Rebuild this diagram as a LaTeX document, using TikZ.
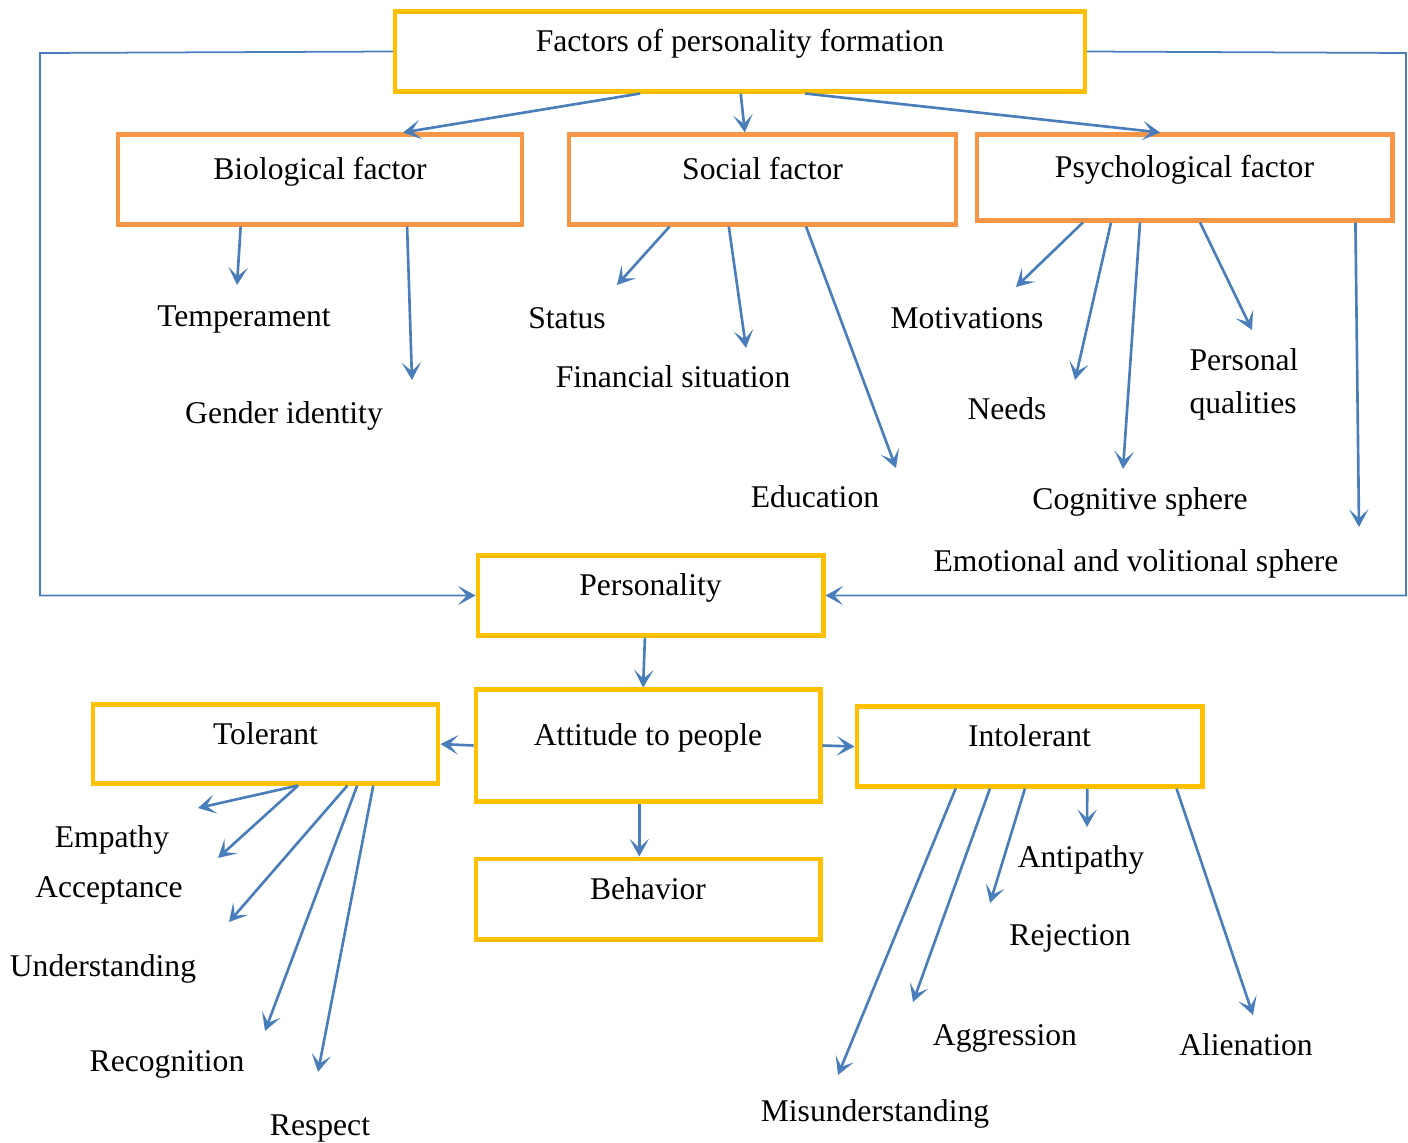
\documentclass[tikz,border=0pt]{standalone}
\usepackage{fontspec}
\setmainfont{Liberation Serif}
\usetikzlibrary{arrows.meta,calc}
\definecolor{amber}{HTML}{FFC000}
\definecolor{tangerine}{HTML}{F79646}
\definecolor{steel}{HTML}{4A7EBB}
\tikzset{
  keybox/.style={
    rectangle, draw=amber, line width=2.3pt, fill=white,
    minimum width=6.92cm, minimum height=1.6cm,
    text height=12pt, text depth=12pt, inner sep=0pt
  },
  factorbox/.style={
    keybox, draw=tangerine,
    minimum width=#1, minimum height=1.8cm
  },
  factorbox/.default=8cm,
  flowarrow/.style={
    -{Stealth[length=10pt,width=11pt,inset=5pt]}, line width=1.5pt, color=steel
  },
  feedline/.style={flowarrow, line width=1pt},
  itemlabel/.style={text height=12pt, text depth=0pt, inner sep=0pt},
}

\begin{document}
\begin{tikzpicture}[x=0.02cm, y=-0.02cm, font=\fontsize{18}{24.5}\selectfont]
  \useasboundingbox (0,0) rectangle (1408,1142);

  % boxes
  \node[keybox, minimum width=13.8cm] (top) at (740,51.5) {Factors of personality formation};
  \node[factorbox=8.1cm] (bio) at (320,179.5) {Biological factor};
  \node[factorbox=7.76cm] (soc) at (762.5,179.5) {Social factor};
  \node[factorbox=8.32cm, minimum height=1.72cm] (psy) at (1184.5,177.5) {Psychological factor};
  \node[keybox] (pers) at (650.5,595.5) {Personality};
  \node[keybox, minimum width=6.9cm, minimum height=2.24cm] (att) at (648,745.5) {Attitude to people};
  \node[keybox, minimum height=1.58cm] (tol) at (265.5,744) {Tolerant};
  \node[keybox] (intol) at (1029.5,746.5) {Intolerant};
  \node[keybox, minimum width=6.9cm, minimum height=1.62cm] (beh) at (648,899) {Behavior};

  % labels
  \node[itemlabel] (temp) at (244,316) {Temperament};
  \node[itemlabel] (gend) at (284,413) {Gender identity};
  \node[itemlabel] (stat) at (567,318) {Status};
  \node[itemlabel] (fin) at (673,377) {Financial situation};
  \node[itemlabel] (edu) at (815,497) {Education};
  \node[itemlabel] (mot) at (967,318) {Motivations};
  \node[itemlabel] (need) at (1007,409) {Needs};
  \node[align=left, inner sep=0pt] (pq) at (1244,384) {Personal\\qualities};
  \node[itemlabel] (cog) at (1140,499) {Cognitive sphere};
  \node[itemlabel] (emo) at (1136,561) {Emotional and volitional sphere};
  \node[itemlabel] (emp) at (112,837) {Empathy};
  \node[itemlabel] (acc) at (109,887) {Acceptance};
  \node[itemlabel] (und) at (103,966) {Understanding};
  \node[itemlabel] (rec) at (167,1061) {Recognition};
  \node[itemlabel] (resp) at (320,1125) {Respect};
  \node[itemlabel] (anti) at (1081,857) {Antipathy};
  \node[itemlabel] (rej) at (1070,935) {Rejection};
  \node[itemlabel] (agg) at (1005,1035) {Aggression};
  \node[itemlabel] (ali) at (1246,1045) {Alienation};
  \node[itemlabel] (mis) at (875,1111) {Misunderstanding};

  % free arrow ends
  \coordinate (temp-tip) at (237,285);
  \coordinate (gend-tip) at (412,380);
  \coordinate (stat-tip) at (617,285);
  \coordinate (fin-tip) at (746,348);
  \coordinate (edu-tip) at (896,468);
  \coordinate (mot-tip) at (1016,287);
  \coordinate (need-tip) at (1075,380);
  \coordinate (cog-tip) at (1123,469);
  \coordinate (pq-tip) at (1252,330);
  \coordinate (emo-tip) at (1359,527);
  \coordinate (emp-tip) at (198,808);
  \coordinate (acc-tip) at (218,858);
  \coordinate (und-tip) at (229,922);
  \coordinate (rec-tip) at (265,1031);
  \coordinate (resp-tip) at (318,1072);
  \coordinate (mis-tip) at (838,1075);
  \coordinate (agg-tip) at (913,1002);
  \coordinate (rej-tip) at (990,903);
  \coordinate (anti-tip) at (1087,827);
  \coordinate (ali-tip) at (1253,1015);
  \coordinate (fbl) at (40,53);
  \coordinate (fbr) at (1406,53);

  % top level
  \draw[flowarrow] ($(top.south west)!.356!(top.south east)$) -- ($(bio.north west)!.703!(bio.north east)$);
  \draw[flowarrow] ($(top.south west)!.501!(top.south east)$) -- ($(soc.north west)!.455!(soc.north east)$);
  \draw[flowarrow] ($(top.south west)!.594!(top.south east)$) -- ($(psy.north west)!.442!(psy.north east)$);
  \draw[feedline] (top.west) -- (fbl) |- (pers.west);
  \draw[feedline] (top.east) -- (fbr) |- (pers.east);

  % factors
  \draw[flowarrow] ($(bio.south west)!.306!(bio.south east)$) -- (temp-tip);
  \draw[flowarrow] ($(bio.south west)!.713!(bio.south east)$) -- (gend-tip);
  \draw[flowarrow] ($(soc.south west)!.263!(soc.south east)$) -- (stat-tip);
  \draw[flowarrow] ($(soc.south west)!.414!(soc.south east)$) -- (fin-tip);
  \draw[flowarrow] ($(soc.south west)!.611!(soc.south east)$) -- (edu-tip);
  \draw[flowarrow] ($(psy.south west)!.258!(psy.south east)$) -- (mot-tip);
  \draw[flowarrow] ($(psy.south west)!.325!(psy.south east)$) -- (need-tip);
  \draw[flowarrow] ($(psy.south west)!.394!(psy.south east)$) -- (cog-tip);
  \draw[flowarrow] ($(psy.south west)!.537!(psy.south east)$) -- (pq-tip);
  \draw[flowarrow] ($(psy.south west)!.907!(psy.south east)$) -- (emo-tip);

  % attitude
  \draw[flowarrow] ($(pers.south west)!.484!(pers.south east)$) -- ($(att.north west)!.486!(att.north east)$);
  \draw[flowarrow] (att.west) -- (tol.east);
  \draw[flowarrow] (att.east) -- (intol.west);
  \draw[flowarrow] ($(att.south west)!.475!(att.south east)$) -- ($(beh.north west)!.475!(beh.north east)$);

  \draw[flowarrow] ($(tol.south west)!.593!(tol.south east)$) -- (emp-tip);
  \draw[flowarrow] ($(tol.south west)!.593!(tol.south east)$) -- (acc-tip);
  \draw[flowarrow] ($(tol.south west)!.734!(tol.south east)$) -- (und-tip);
  \draw[flowarrow] ($(tol.south west)!.762!(tol.south east)$) -- (rec-tip);
  \draw[flowarrow] ($(tol.south west)!.808!(tol.south east)$) -- (resp-tip);

  \draw[flowarrow] ($(intol.south west)!.289!(intol.south east)$) -- (mis-tip);
  \draw[flowarrow] ($(intol.south west)!.387!(intol.south east)$) -- (agg-tip);
  \draw[flowarrow] ($(intol.south west)!.487!(intol.south east)$) -- (rej-tip);
  \draw[flowarrow] ($(intol.south west)!.665!(intol.south east)$) -- (anti-tip);
  \draw[flowarrow] ($(intol.south west)!.920!(intol.south east)$) -- (ali-tip);
\end{tikzpicture}
\end{document}
